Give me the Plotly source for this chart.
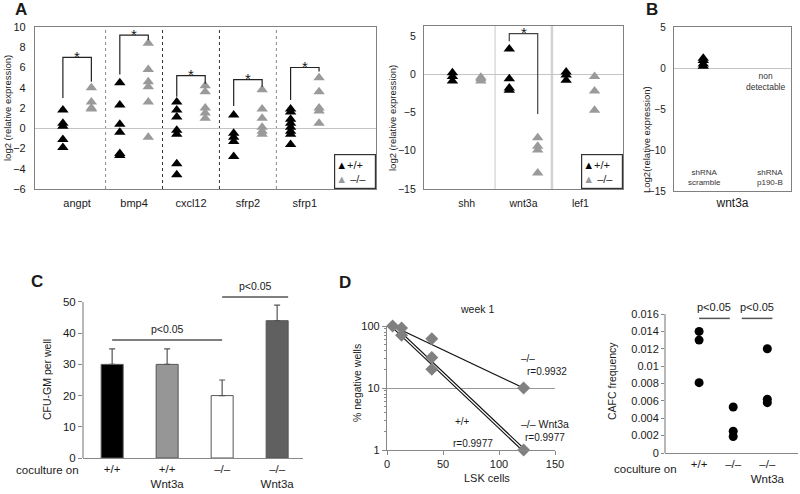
import plotly.graph_objects as go

W, H = 800, 494
FONT = "Liberation Sans, Arial, sans-serif"
TXT = "#1a1a1a"
BLACK_TRI = "#000000"
GREY_TRI = "#9a9a9a"

# ---------------- Panel A (left) ----------------
a_genes = ["angpt", "bmp4", "cxcl12", "sfrp2", "sfrp1"]
a_wt = [
    [1.8, 0.5, 0.2, -1.1, -1.9],
    [4.5, 2.3, 0.4, -0.4, -2.5, -2.7],
    [2.6, 1.8, 1.1, -0.2, -0.6, -3.5, -4.6],
    [1.3, -0.5, -0.9, -1.3, -2.8],
    [1.9, 1.6, 0.9, 0.5, 0.1, -0.3, -0.6, -1.6],
]
a_ko = [
    [4.0, 2.6, 2.0, 1.9],
    [8.4, 5.8, 4.6, 4.1, 2.6, -0.9],
    [4.2, 3.6, 2.0, 1.5, 1.0],
    [3.8, 1.9, 1.0, 0.1, -0.3, -0.6],
    [5.0, 3.6, 2.0, 1.7, 0.5],
]
a_sig_top = [7.0, 9.2, 5.2, 4.8, 6.0]
a_sig_wt_end = [3.0, 5.3, 3.1, 2.2, 2.8]
a_sig_ko_end = [4.6, 8.7, 4.4, 4.1, 5.6]
a_yticks = [-6, -4, -2, 0, 2, 4, 6, 8, 10]

# ---------------- Panel A (right) ----------------
a2_genes = ["shh", "wnt3a", "lef1"]
a2_wt = [[0.2, -0.3, -0.9], [3.3, -0.6, -1.8, -2.1], [0.3, -0.1, -0.8]]
a2_ko = [[-0.4, -0.6, -0.9], [-8.3, -9.4, -9.9, -12.9], [-0.3, -2.2, -4.7]]
a2_sig_gene = 1
a2_sig_top = 5.3
a2_sig_wt_end = 4.3
a2_sig_ko_end = -5.2
a2_yticks = [-15, -10, -5, 0, 5]

# ---------------- Panel B ----------------
b_scramble = [1.2, 0.9, 0.5, 0.2]
b_yticks = [-15, -10, -5, 0, 5]

# ---------------- Panel C ----------------
c_groups = ["+/+", "+/+<br>Wnt3a", "–/–", "–/–<br>Wnt3a"]
c_values = [30, 30, 20, 44]
c_errors = [5, 5, 5, 5]
c_colors = ["#000000", "#969696", "#ffffff", "#606060"]
c_yticks = [0, 10, 20, 30, 40, 50]
c_sig_x0 = [0, 2]
c_sig_x1 = [2, 3.2]
c_sig_y = [37.8, 51.6]

# ---------------- Panel D (left) ----------------
d_cells = [5, 13, 13, 40, 40, 40, 122, 122]
d_neg = [100, 93, 71, 62, 31, 20, 10, 1]
d_fit_x = [5, 122]
d_fit_ko = [100, 10]
d_fit_wt = [100, 1]

# ---------------- Panel D (right) ----------------
e_groups = ["+/+", "–/–", "–/–<br>Wnt3a"]
e_vals = [[0.014, 0.013, 0.0081], [0.0053, 0.0025, 0.0019], [0.012, 0.0062, 0.0058]]
e_yticks = [0, 0.002, 0.004, 0.006, 0.008, 0.01, 0.012, 0.014, 0.016]
e_yticktext = ["0", "0.002", "0.004", "0.006", "0.008", "0.01", "0.012", "0.014", "0.016"]
e_sig_x0 = [0.0, 1.25]
e_sig_x1 = [0.9, 2.15]
e_sig_y = 0.0155


def dx(a, b):
    return [a / W, b / W]


def dy(top, bottom):
    return [1 - bottom / H, 1 - top / H]


def px(x):
    return x / W


def py(y):
    return 1 - y / H


fig = go.Figure()

# ---- Panel A left traces
for grp, off, col in ((a_wt, -0.25, BLACK_TRI), (a_ko, 0.25, GREY_TRI)):
    xs, ys = [], []
    for i, vals in enumerate(grp):
        xs += [i + off] * len(vals)
        ys += vals
    fig.add_trace(go.Scatter(x=xs, y=ys, mode="markers", xaxis="x", yaxis="y",
                             marker=dict(symbol="triangle-up", size=10, color=col),
                             showlegend=False, hoverinfo="skip"))
for i in range(len(a_genes)):
    fig.add_trace(go.Scatter(x=[i - 0.25, i - 0.25, i + 0.25, i + 0.25],
                             y=[a_sig_wt_end[i], a_sig_top[i], a_sig_top[i], a_sig_ko_end[i]],
                             mode="lines", line=dict(color="#222", width=1.2),
                             xaxis="x", yaxis="y", showlegend=False, hoverinfo="skip"))

# ---- Panel A right traces
for grp, off, col in ((a2_wt, -0.25, BLACK_TRI), (a2_ko, 0.25, GREY_TRI)):
    xs, ys = [], []
    for i, vals in enumerate(grp):
        xs += [i + off] * len(vals)
        ys += vals
    fig.add_trace(go.Scatter(x=xs, y=ys, mode="markers", xaxis="x2", yaxis="y2",
                             marker=dict(symbol="triangle-up", size=10, color=col),
                             showlegend=False, hoverinfo="skip"))
g = a2_sig_gene
fig.add_trace(go.Scatter(x=[g - 0.25, g - 0.25, g + 0.25, g + 0.25],
                         y=[a2_sig_wt_end, a2_sig_top, a2_sig_top, a2_sig_ko_end],
                         mode="lines", line=dict(color="#444", width=1.2),
                         xaxis="x2", yaxis="y2", showlegend=False, hoverinfo="skip"))

# ---- Panel B
fig.add_trace(go.Scatter(x=[0.5] * len(b_scramble), y=b_scramble, mode="markers",
                         xaxis="x3", yaxis="y3",
                         marker=dict(symbol="triangle-up", size=10, color=BLACK_TRI),
                         showlegend=False, hoverinfo="skip"))

# ---- Panel C
fig.add_trace(go.Bar(x=list(range(len(c_values))), y=c_values, width=0.4,
                     marker=dict(color=c_colors, line=dict(color="#555", width=1)),
                     error_y=dict(type="data", array=c_errors, arrayminus=[0] * len(c_errors),
                                  symmetric=False, color="#555", thickness=1.2, width=3),
                     xaxis="x4", yaxis="y4", showlegend=False, hoverinfo="skip"))
for x0, x1, yv in zip(c_sig_x0, c_sig_x1, c_sig_y):
    fig.add_trace(go.Scatter(x=[x0, x1], y=[yv, yv], mode="lines",
                             line=dict(color="#555", width=1.5),
                             xaxis="x4", yaxis="y4", showlegend=False, hoverinfo="skip"))

# ---- Panel D left
fig.add_trace(go.Scatter(x=d_fit_x, y=d_fit_ko, mode="lines", line=dict(color="#111", width=1.2),
                         xaxis="x5", yaxis="y5", showlegend=False, hoverinfo="skip"))
fig.add_trace(go.Scatter(x=d_fit_x, y=d_fit_wt, mode="lines", line=dict(color="#111", width=3.6),
                         xaxis="x5", yaxis="y5", showlegend=False, hoverinfo="skip"))
fig.add_trace(go.Scatter(x=d_fit_x, y=d_fit_wt, mode="lines", line=dict(color="#ffffff", width=1.3),
                         xaxis="x5", yaxis="y5", showlegend=False, hoverinfo="skip"))
fig.add_trace(go.Scatter(x=d_cells, y=d_neg, mode="markers", cliponaxis=False,
                         marker=dict(symbol="diamond", size=10, color="#808080"),
                         xaxis="x5", yaxis="y5", showlegend=False, hoverinfo="skip"))

# ---- Panel D right
xs, ys = [], []
for i, vals in enumerate(e_vals):
    xs += [i] * len(vals)
    ys += vals
fig.add_trace(go.Scatter(x=xs, y=ys, mode="markers", marker=dict(size=9, color="#000"),
                         xaxis="x6", yaxis="y6", showlegend=False, hoverinfo="skip"))
for x0, x1 in zip(e_sig_x0, e_sig_x1):
    fig.add_trace(go.Scatter(x=[x0, x1], y=[e_sig_y, e_sig_y], mode="lines",
                             line=dict(color="#555", width=1.5),
                             xaxis="x6", yaxis="y6", showlegend=False, hoverinfo="skip"))

tickfont = lambda s: dict(family=FONT, size=s, color=TXT)
frame = dict(showline=True, mirror=True, linecolor="#808080", linewidth=1.2, showgrid=False,
             zeroline=False, automargin=False)
NA = dict(automargin=False)

layout = dict(
    width=W, height=H, autosize=False,
    margin=dict(l=0, r=0, t=0, b=0, pad=0),
    paper_bgcolor="white", plot_bgcolor="white",
    font=dict(family=FONT, color=TXT),
    showlegend=False,
    # A left
    xaxis=dict(domain=dx(35, 376), range=[-0.74, 5.25], anchor="y", ticklabelstandoff=4,
               tickvals=list(range(len(a_genes))), ticktext=a_genes, tickfont=tickfont(11), ticks="", **frame),
    yaxis=dict(domain=dy(27, 189), range=[-6, 10], anchor="x", tickvals=a_yticks, ticklabelstandoff=6,
               tickfont=tickfont(11), ticks="", showline=True, mirror=True, linecolor="#808080",
               linewidth=1.2, showgrid=False, zeroline=True, zerolinecolor="#c4c4c4", zerolinewidth=1, **NA),
    # A right
    xaxis2=dict(domain=dx(424, 623), range=[-0.75, 2.75], anchor="y2", ticklabelstandoff=4,
                tickvals=list(range(len(a2_genes))), ticktext=a2_genes, tickfont=tickfont(10.5), ticks="", **frame),
    yaxis2=dict(domain=dy(26, 189), range=[-15, 6.3], anchor="x2", tickvals=a2_yticks, ticklabelstandoff=5,
                tickfont=tickfont(10.5), ticks="", showline=True, mirror=True, linecolor="#808080",
                linewidth=1.2, showgrid=False, zeroline=True, zerolinecolor="#c4c4c4", zerolinewidth=1, **NA),
    # B
    xaxis3=dict(domain=dx(674, 791), range=[0, 2], anchor="y3", tickvals=[1], ticktext=["wnt3a"],
                tickfont=tickfont(12), ticks="", **frame),
    yaxis3=dict(domain=dy(27, 191), range=[-15, 5], anchor="x3", tickvals=b_yticks, ticklabelstandoff=5,
                tickfont=tickfont(10), ticks="", showline=True, mirror=True, linecolor="#808080",
                linewidth=1.2, showgrid=False, zeroline=True, zerolinecolor="#c4c4c4", zerolinewidth=1, **NA),
    # C
    xaxis4=dict(domain=dx(83, 303), range=[-0.53, 3.47], anchor="y4",
                tickvals=list(range(len(c_groups))), ticktext=c_groups, tickfont=tickfont(11.5),
                ticks="", showline=True, linecolor="#888", linewidth=1.2, showgrid=False, zeroline=False, **NA),
    yaxis4=dict(domain=dy(277, 458), range=[0, 58], anchor="x4", tickvals=c_yticks,
                tickfont=tickfont(11.5), ticks="outside", ticklen=4, tickcolor="#888",
                showline=False, showgrid=False, zeroline=False, **NA),
    # D left
    xaxis5=dict(domain=dx(387, 555), range=[0, 150], anchor="y5", tickvals=[0, 50, 100, 150],
                tickfont=tickfont(11), ticks="outside", ticklen=4, tickcolor="#888",
                showline=True, linecolor="#888", linewidth=1.2, showgrid=False, zeroline=False, **NA),
    yaxis5=dict(domain=dy(326, 450), type="log", range=[0, 2], anchor="x5", tickvals=[1, 10, 100],
                ticktext=["1", "10", "100"], tickfont=tickfont(11), ticks="outside", ticklen=4,
                tickcolor="#888", showline=True, linecolor="#888", linewidth=1.2,
                showgrid=True, gridcolor="#9a9a9a", gridwidth=1, zeroline=False,
                minor=dict(tickvals=[2, 3, 4, 5, 6, 7, 8, 9, 20, 30, 40, 50, 60, 70, 80, 90],
                           ticks="outside", ticklen=2, tickcolor="#888", showgrid=False), **NA),
    # D right
    xaxis6=dict(domain=dx(665, 798), range=[-1, 2.9], anchor="y6",
                tickvals=list(range(len(e_groups))), ticktext=e_groups, tickfont=tickfont(11.5),
                ticks="", showline=True, linecolor="#888", linewidth=1.2, showgrid=False, zeroline=False, **NA),
    yaxis6=dict(domain=dy(288, 453), range=[0, 0.019], anchor="x6", tickvals=e_yticks,
                ticktext=e_yticktext, tickfont=tickfont(11), ticks="outside", ticklen=3, tickcolor="#888",
                showline=False, showgrid=False, zeroline=False, **NA),
    bargap=0.3,
)

shapes = []
sep_colors = ["#8a8a8a", "#333333", "#333333", "#8a8a8a"]
for i, c in enumerate(sep_colors):
    shapes.append(dict(type="line", xref="x", yref="y domain", x0=i + 0.5, x1=i + 0.5, y0=0, y1=1,
                       line=dict(color=c, width=1, dash="dot"), layer="below"))
shapes.append(dict(type="line", xref="x2", yref="y2 domain", x0=0.5, x1=0.5, y0=0, y1=1,
                   line=dict(color="#c8c8c8", width=1), layer="below"))
shapes.append(dict(type="line", xref="x2", yref="y2 domain", x0=1.5, x1=1.5, y0=0, y1=1,
                   line=dict(color="#d2d2d2", width=2.5), layer="below"))
# manual y-axis lines for panels whose range extends above the top tick
shapes.append(dict(type="line", xref="x4 domain", yref="y4", x0=0, x1=0, y0=0, y1=c_yticks[-1],
                   line=dict(color="#888", width=1.2)))
shapes.append(dict(type="line", xref="x6 domain", yref="y6", x0=0, x1=0, y0=0, y1=e_yticks[-1],
                   line=dict(color="#888", width=1.2)))
layout["shapes"] = shapes

ann = []


def text(x, y, s, size=10, xref="paper", yref="paper", **kw):
    d = dict(x=x, y=y, xref=xref, yref=yref, text=s, showarrow=False,
             xanchor="center", yanchor="middle",
             font=dict(family=FONT, size=size, color=kw.pop("color", TXT)))
    d.update(kw)
    ann.append(d)


# panel letters
text(px(21), py(9), "<b>A</b>", 17)
text(px(652), py(10), "<b>B</b>", 17)
text(px(37), py(281), "<b>C</b>", 17)
text(px(345), py(282), "<b>D</b>", 17)

# stars
for i in range(len(a_genes)):
    text(i, a_sig_top[i], "*", 15, xref="x", yref="y", yshift=1)
text(a2_sig_gene, a2_sig_top, "*", 15, xref="x2", yref="y2", yshift=1)

# legends
leg = (f"<span style='color:{BLACK_TRI}'>▲</span>+/+<br>"
       f"<span style='color:{GREY_TRI}'>▲</span> –/–")
for xr, yr in (("x domain", "y domain"), ("x2 domain", "y2 domain")):
    text(1, 0, leg, 11, xref=xr, yref=yr, xanchor="right", yanchor="bottom", align="left",
         bordercolor="#333", borderwidth=1.2, bgcolor="white", width=38, height=31, borderpad=1)

# y titles
text(px(7), py(108), "log2 (relative expression)", 9.5, textangle=-90)
text(px(392), py(118), "log2 (relative expression)", 9.5, textangle=-90)
text(px(646), py(140), "Log2(relative expression)", 9.5, textangle=-90)
text(px(47), py(380), "CFU-GM per well", 10.5, textangle=-90)
text(px(357), py(383), "% negative wells", 10.5, textangle=-90)
text(px(612), py(381), "CAFC frequency", 10.5, textangle=-90)

# panel B notes
text(px(765), py(81), "non<br>detectable", 8.5, color="#333")
text(px(704), py(178), "shRNA<br>scramble", 8, color="#333")
text(px(770), py(178), "shRNA<br>p190-B", 8, color="#333")

# panel C
text(px(47), py(470), "coculture on", 11.5)
for x0, x1, yv in zip(c_sig_x0, c_sig_x1, c_sig_y):
    text((x0 + x1) / 2, yv, "p<0.05", 10.5, xref="x4", yref="y4", yanchor="bottom", yshift=3)

# panel D left
text(px(477), py(309), "week 1", 10.5)
text(px(487), py(478), "LSK cells", 11)
text(px(528), py(358), "–/–", 10)
text(px(547), py(371), "r=0.9932", 10)
text(px(545), py(424), "–/– Wnt3a", 10.5)
text(px(545), py(437), "r=0.9977", 10)
text(px(462), py(421), "+/+", 10)
text(px(473), py(443), "r=0.9977", 10)

# panel D right
text(px(645), py(469), "coculture on", 11.5)
for x0, x1 in zip(e_sig_x0, e_sig_x1):
    text((x0 + x1) / 2, e_sig_y, "p<0.05", 11, xref="x6", yref="y6", yanchor="bottom", yshift=3)

layout["annotations"] = ann
fig.update_layout(**layout)
fig.write_html("out.html", config={"displayModeBar": False},
               post_script="document.body.style.margin='0px';")
